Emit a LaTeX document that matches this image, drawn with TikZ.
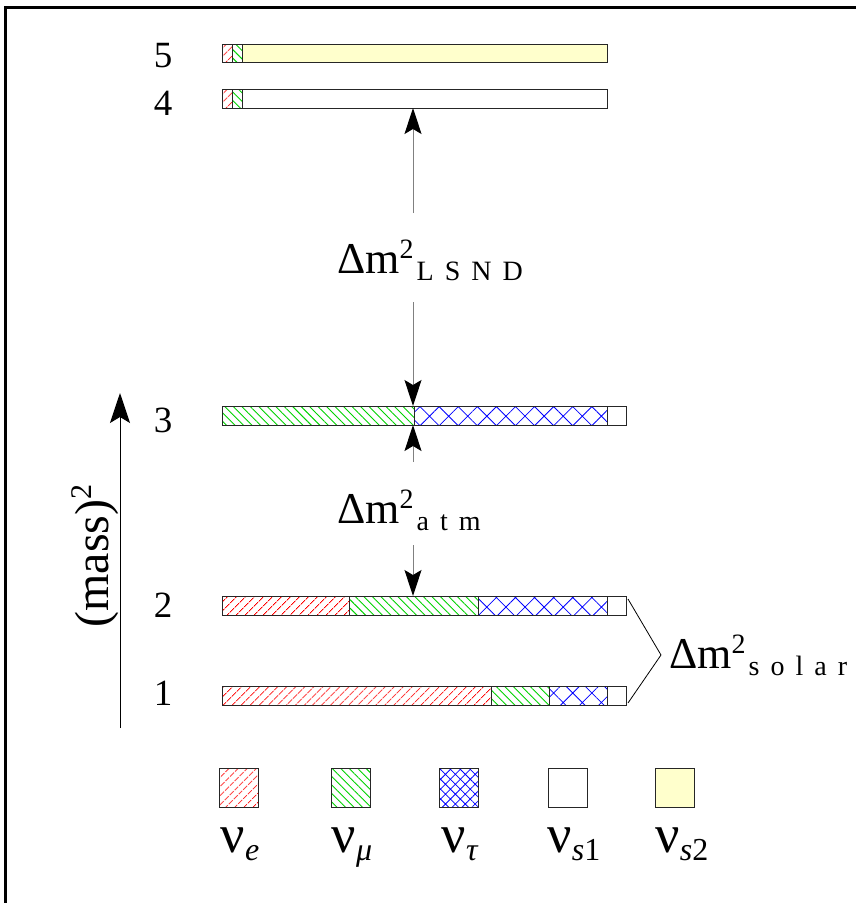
\documentclass[tikz,border=0pt]{standalone}
\usepackage{fontspec}
\setmainfont{Liberation Serif}
\usetikzlibrary{patterns.meta,arrows.meta}
\definecolor{lightyel}{RGB}{255,255,204}
\definecolor{hgreen}{RGB}{0,210,0}
\definecolor{hred}{RGB}{255,0,0}
\definecolor{hblue}{RGB}{0,0,255}
\newcommand\barseg[5]{\path[#1] (#2,#3) rectangle (#4,#5); \draw[segline] (#2,#3) rectangle (#4,#5);}
\newcommand\dmsq[1]{{\fontsize{44}{44}\selectfont Δm\raisebox{15pt}{\fontsize{28}{28}\selectfont 2}\hspace{3pt}\raisebox{-7pt}{\fontsize{28}{28}\selectfont #1}}}
\newcommand\ls{\hspace{11pt}}
\begin{document}
\begin{tikzpicture}[x=1pt,y=-1pt,
  segline/.style={draw=black!85,line width=0.9pt},
  ve/.style={pattern={Lines[angle=45,distance=6.5pt,line width=1pt]},pattern color=hred},
  vmu/.style={pattern={Lines[angle=-45,distance=6pt,line width=0.9pt]},pattern color=hgreen},
  vtau/.style={pattern={Hatch[angle=45,distance=13.5pt,line width=0.8pt]},pattern color=hblue},
  vtaul/.style={pattern={Hatch[angle=45,distance=7pt,line width=0.8pt]},pattern color=hblue},
  vsa/.style={fill=white},
  vsb/.style={fill=lightyel},
  lvl/.style={font=\fontsize{37}{37}\selectfont,inner sep=0},
  dlab/.style={inner sep=0,anchor=base west},
  leglab/.style={inner sep=0,anchor=base},
  gap/.style={draw=black!50,line width=1pt,-{Stealth[length=26pt,width=17pt,inset=5pt,color=black]}},
  axisarr/.style={draw=black,line width=1pt,-{Stealth[length=30pt,width=20pt,inset=6pt]}},
  bracket/.style={draw=black,line width=0.8pt}]
\useasboundingbox (0,0) rectangle (855,903);
% frame
\draw[line width=3pt] (5.5,910) -- (5.5,7.5) -- (870,7.5);

% bars
\barseg{ve}{222}{44}{232}{62}
\barseg{vmu}{232}{44}{242}{62}
\barseg{vsb}{242}{44}{607}{62}

\barseg{ve}{222}{89}{232}{108}
\barseg{vmu}{232}{89}{242}{108}
\barseg{vsa}{242}{89}{607}{108}

\barseg{vmu}{222}{406}{414}{425}
\barseg{vtau}{414}{406}{607}{425}
\barseg{vsa}{607}{406}{626}{425}

\barseg{ve}{222}{596}{349}{615}
\barseg{vmu}{349}{596}{478}{615}
\barseg{vtau}{478}{596}{607}{615}
\barseg{vsa}{607}{596}{626}{615}

\barseg{ve}{222}{686}{491}{705}
\barseg{vmu}{491}{686}{549}{705}
\barseg{vtau}{549}{686}{607}{705}
\barseg{vsa}{607}{686}{626}{705}

% level numbers
\node[lvl] (n5) at (163,56) {5};
\node[lvl] (n4) at (163,103) {4};
\node[lvl] (n3) at (163,420) {3};
\node[lvl] (n2) at (163,605) {2};
\node[lvl] (n1) at (163,693) {1};

% mass-squared labels
\node[dlab] (lsnd) at (337,273) {\dmsq{L\ls S\ls N\ls D}};
\node[dlab] (atm) at (337,523) {\dmsq{a\ls t\ls m}};
\node[dlab] (solar) at (669,668) {\dmsq{s\ls o\ls l\ls a\ls r}};

% connector points
\coordinate (b4s) at (413,108);
\coordinate (b3n) at (413,406);
\coordinate (b3s) at (413,425);
\coordinate (b2n) at (413,596);
\coordinate (lsndtop) at (413,213);
\coordinate (lsndbot) at (413,302);
\coordinate (atmtop) at (413,462);
\coordinate (atmbot) at (413,545);
\coordinate (b2r) at (628,599);
\coordinate (b1r) at (628,703);
\coordinate (solv) at (661,655);
\coordinate (axb) at (120,728);
\coordinate (axt) at (120,393);

\draw[gap] (lsndtop) -- (b4s);
\draw[gap] (lsndbot) -- (b3n);
\draw[gap] (atmtop) -- (b3s);
\draw[gap] (atmbot) -- (b2n);
\draw[bracket] (b2r) -- (solv) -- (b1r);

% mass axis
\draw[axisarr] (axb) -- (axt);
\node[rotate=90,inner sep=0,font=\fontsize{48}{48}\selectfont] (mass) at (95,556) {(mass)\raisebox{17pt}{\fontsize{30}{30}\selectfont 2}};

% legend
\barseg{ve}{219}{768}{258}{807}
\barseg{vmu}{331}{768}{370}{807}
\barseg{vtaul}{439}{768}{478}{807}
\barseg{vsa}{548}{768}{587}{807}
\barseg{vsb}{655}{768}{694}{807}

\node[leglab] (le) at (240,852) {\fontsize{54}{54}\selectfont ν\fontsize{32}{32}\selectfont\raisebox{-8pt}{\textit{e}}};
\node[leglab] (lmu) at (352,852) {\fontsize{54}{54}\selectfont ν\fontsize{32}{32}\selectfont\raisebox{-8pt}{\textit{μ}}};
\node[leglab] (ltau) at (460,852) {\fontsize{54}{54}\selectfont ν\fontsize{32}{32}\selectfont\raisebox{-8pt}{\textit{τ}}};
\node[leglab] (ls1) at (574,852) {\fontsize{54}{54}\selectfont ν\fontsize{32}{32}\selectfont\raisebox{-8pt}{\textit{s}1}};
\node[leglab] (ls2) at (682,852) {\fontsize{54}{54}\selectfont ν\fontsize{32}{32}\selectfont\raisebox{-8pt}{\textit{s}2}};
\end{tikzpicture}
\end{document}
